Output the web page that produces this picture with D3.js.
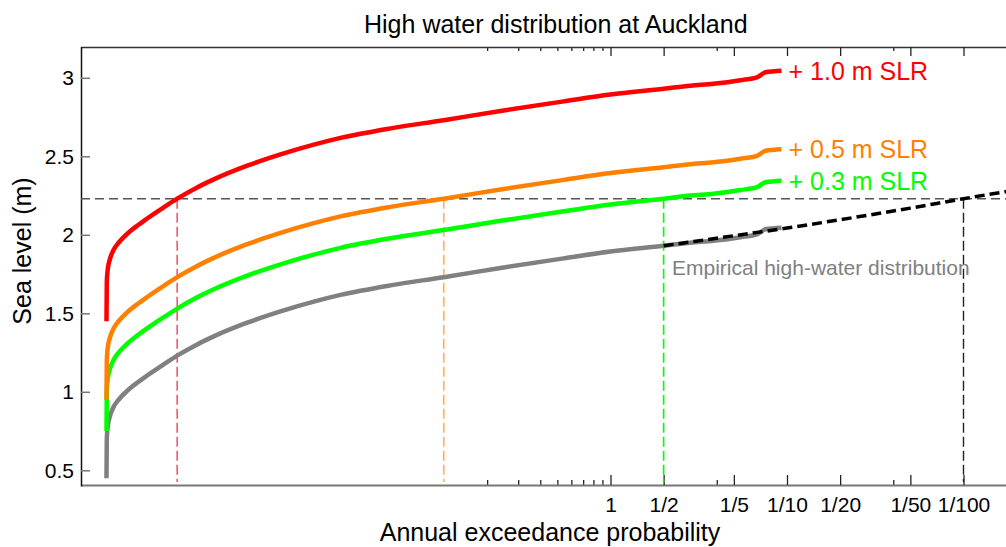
<!DOCTYPE html>
<html>
<head>
<meta charset="utf-8">
<script src="https://cdn.jsdelivr.net/npm/d3@7"></script>
<style>
  html, body { margin: 0; padding: 0; background: #fff; }
  svg { display: block; font-family: "Liberation Sans", Arial, Helvetica, sans-serif; }
</style>
</head>
<body>
<svg id="chart" width="1006" height="547"></svg>
<script>
// Empirical high-water exceedance at Auckland: return period (years) and level (m)
const empiricalPeriod = [0.0013945, 0.0014000, 0.0014182, 0.0014558, 0.0015337, 0.0016373,
  0.0018273, 0.0020817, 0.0023718, 0.0029445, 0.0035075, 0.0045531, 0.0056547, 0.0087427,
  0.0135, 0.020845, 0.02954, 0.05669, 0.1136, 0.2381, 0.5437, 1.0, 2.0,
  2.84, 3.83, 5.45, 6.81, 7.55, 9.31];
const empiricalLevel = [0.45, 0.70, 0.782, 0.842, 0.906, 0.951,
  1.006, 1.058, 1.104, 1.175, 1.23, 1.302, 1.353, 1.44,
  1.512, 1.574, 1.617, 1.678, 1.73, 1.789, 1.85, 1.893, 1.93,
  1.95, 1.962, 1.985, 2.005, 2.035, 2.045];

// Extreme-value fit carrying the curve out to rare events
const fitPeriod = [2, 5, 10, 20, 50, 100, 200];
const fitLevel = [1.93, 1.994, 2.043, 2.096, 2.170, 2.23, 2.286];

// Sea-level-rise scenarios added to the empirical curve
const slrOffset = [0.3, 0.5, 1.0];
const slrLabel = ["+ 0.3 m SLR", "+ 0.5 m SLR", "+ 1.0 m SLR"];
const slrColor = ["#00ff00", "#ff8000", "#ff0000"];
const slrGuideColor = ["#18f018", "#ffb366", "#f0606e"];

// Level of interest and axis ticks
const threshold = 2.23;
const majorTicks = [1, 2, 5, 10, 20, 50, 100];
const majorTickLabels = ["1", "1/2", "1/5", "1/10", "1/20", "1/50", "1/100"];
const minorTicks = [0.2, 0.3, 0.4, 0.5, 0.6, 0.7, 0.8, 0.9, 4, 40];
const levelTicks = [0.5, 1, 1.5, 2, 2.5, 3];

const svg = d3.select("#chart");
const plotLeft = 81, plotTop = 47, plotBottom = 485;

const x = d3.scaleLog().domain([0.001, 240]).range([plotLeft, plotLeft + 176.5 * Math.log10(240000)]);
const y = d3.scaleLinear().domain([0.4, 3.2]).range([486, 46.4]);
const plotRight = x.range()[1];

// Return period at which a curve reaches a level (log-linear interpolation)
function crossing(periods, levels, offset, level) {
  for (let i = 0; i < periods.length - 1; i++) {
    const a = levels[i] + offset - level, b = levels[i + 1] + offset - level;
    if (a <= 0 && b >= 0) {
      const t = b === a ? 0 : -a / (b - a);
      const la = Math.log10(periods[i]), lb = Math.log10(periods[i + 1]);
      return Math.pow(10, la + t * (lb - la));
    }
  }
  return null;
}

const line = d3.line().x(d => x(d[0])).y(d => y(d[1])).curve(d3.curveMonotoneX);
const empirical = empiricalPeriod.map((p, i) => [p, empiricalLevel[i]]);
const fit = fitPeriod.map((p, i) => [p, fitLevel[i]]);

// Title and axis labels
svg.append("text").attr("x", (plotLeft + plotRight) / 2).attr("y", 33)
  .attr("text-anchor", "middle").attr("font-size", 25).attr("fill", "#000")
  .text("High water distribution at Auckland");
svg.append("text").attr("x", 550).attr("y", 541)
  .attr("text-anchor", "middle").attr("font-size", 25).attr("fill", "#000")
  .text("Annual exceedance probability");
svg.append("text").attr("transform", "translate(31,251) rotate(-90)")
  .attr("text-anchor", "middle").attr("font-size", 25).attr("fill", "#000")
  .text("Sea level (m)");

// Axes
const gx = svg.append("g").attr("transform", `translate(0,${plotBottom})`);
gx.call(d3.axisBottom(x).tickValues(minorTicks).tickSize(-5).tickSizeOuter(0).tickFormat(""));
gx.call(g => g.select(".domain").remove());
const gxMajor = svg.append("g").attr("transform", `translate(0,${plotBottom})`);
gxMajor.call(d3.axisBottom(x).tickValues(majorTicks).tickSize(-10).tickSizeOuter(0)
  .tickPadding(12).tickFormat((d, i) => majorTickLabels[i]));
[gx, gxMajor].forEach(g => {
  g.selectAll(".tick line").attr("stroke", "#222").attr("stroke-width", 1.3);
});
gxMajor.select(".domain").attr("stroke", "#777").attr("stroke-width", 2);
gxMajor.selectAll(".tick text").attr("font-size", 21).attr("fill", "#000")
  .attr("font-family", "Liberation Sans, Arial, sans-serif");

const gt = svg.append("g").attr("transform", `translate(0,${plotTop})`);
gt.call(d3.axisTop(x).tickValues(minorTicks).tickSize(-4).tickSizeOuter(0).tickFormat(""));
gt.call(g => g.select(".domain").remove());
const gtMajor = svg.append("g").attr("transform", `translate(0,${plotTop})`);
gtMajor.call(d3.axisTop(x).tickValues(majorTicks).tickSize(-9).tickSizeOuter(0).tickFormat(""));
[gt, gtMajor].forEach(g => g.selectAll(".tick line").attr("stroke", "#222").attr("stroke-width", 1.3));
gtMajor.select(".domain").attr("stroke", "#333").attr("stroke-width", 1.5);

const gy = svg.append("g").attr("transform", `translate(${plotLeft},0)`);
gy.call(d3.axisLeft(y).tickValues(levelTicks).tickSize(-9).tickSizeOuter(0)
  .tickPadding(7).tickFormat(d => String(d)));
gy.select(".domain").attr("stroke", "#111").attr("stroke-width", 1.5);
gy.selectAll(".tick line").attr("stroke", "#777").attr("stroke-width", 1.5);
gy.selectAll(".tick text").attr("font-size", 21).attr("fill", "#000")
  .attr("font-family", "Liberation Sans, Arial, sans-serif");

// Guide lines at the level of interest
svg.append("line").attr("x1", plotLeft).attr("x2", plotRight)
  .attr("y1", y(threshold)).attr("y2", y(threshold))
  .attr("stroke", "#555").attr("stroke-width", 1.4).attr("stroke-dasharray", "9,5");

slrOffset.forEach((off, i) => {
  const p = crossing(empiricalPeriod, empiricalLevel, off, threshold);
  svg.append("line").attr("x1", x(p)).attr("x2", x(p))
    .attr("y1", y(threshold)).attr("y2", plotBottom - 3)
    .attr("stroke", slrGuideColor[i]).attr("stroke-width", 1.7).attr("stroke-dasharray", "10,4");
});
const pFit = crossing(fitPeriod, fitLevel, 0, threshold);
svg.append("line").attr("x1", x(pFit)).attr("x2", x(pFit))
  .attr("y1", y(threshold)).attr("y2", plotBottom - 3)
  .attr("stroke", "#222").attr("stroke-width", 1.4).attr("stroke-dasharray", "10,4");

// Empirical distribution and the scenario curves
svg.append("path").datum(empirical).attr("d", line)
  .attr("fill", "none").attr("stroke", "#808080").attr("stroke-width", 4.5)
  .attr("stroke-linejoin", "round");

slrOffset.forEach((off, i) => {
  const pts = empirical.map(d => [d[0], d[1] + off]);
  svg.append("path").datum(pts).attr("d", line)
    .attr("fill", "none").attr("stroke", slrColor[i]).attr("stroke-width", 4.5)
    .attr("stroke-linejoin", "round");
  const last = pts[pts.length - 1];
  svg.append("text").attr("x", x(last[0]) + 7).attr("y", y(last[1]) + 9)
    .attr("font-size", 25).attr("fill", slrColor[i]).text(slrLabel[i]);
});

svg.append("path").datum(fit).attr("d", line)
  .attr("fill", "none").attr("stroke", "#000").attr("stroke-width", 3.5)
  .attr("stroke-dasharray", "10,5");

svg.append("text").attr("x", 672).attr("y", 275)
  .attr("font-size", 21).attr("fill", "#808080")
  .text("Empirical high-water distribution");
</script>
</body>
</html>
